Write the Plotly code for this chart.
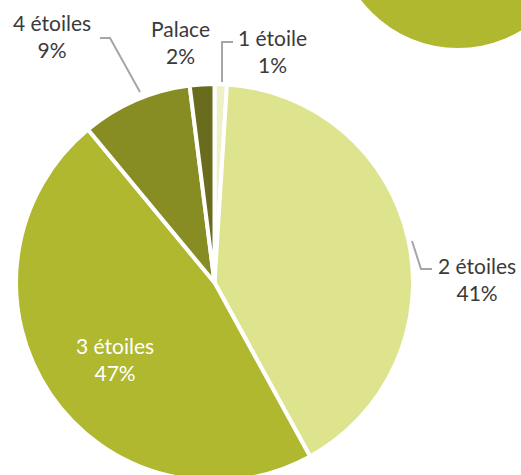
import plotly.graph_objects as go

W, H = 521, 481  # page shows the top 475 px; pie runs off the bottom edge

categories = ["1 étoile", "2 étoiles", "3 étoiles", "4 étoiles", "Palace"]
shares = [1, 41, 47, 9, 2]
colors = ["#EEF0C6", "#DEE48E", "#B0B82F", "#878C23", "#696C1C"]

# label placements (pixel centres) and leader lines
label_pos = {
    "4 étoiles": (52, 36),
    "Palace": (180, 42),
    "1 étoile": (272, 51),
    "2 étoiles": (477, 279),
    "3 étoiles": (115, 359),
}
leaders = {
    "4 étoiles": [(100, 38), (110, 38), (140, 92)],
    "1 étoile": [(233, 42), (222, 42), (222, 82)],
    "2 étoiles": [(432, 269), (421, 269), (412, 241)],
}

def px(x, y):
    return x / W, 1 - y / H

fig = go.Figure(go.Pie(
    labels=categories,
    values=shares,
    sort=False,
    direction="clockwise",
    rotation=0,
    marker=dict(colors=colors, line=dict(color="white", width=4)),
    textinfo="none",
    hoverinfo="label+percent",
    domain=dict(x=[16 / W, 413 / W], y=[0.0, 1 - 84 / H]),
    showlegend=False,
))

annotations = []
for cat, val in zip(categories, shares):
    x, y = label_pos[cat]
    ax, ay = px(x, y)
    col = "white" if cat == "3 étoiles" else "#3A3A3A"
    annotations.append(dict(
        x=ax, y=ay, xref="paper", yref="paper",
        text=f"{cat}<br>{val}%", showarrow=False,
        font=dict(family="Lato", size=21, color=col),
        xanchor="center", yanchor="middle", align="center",
    ))

shapes = []
# decorative circle top right
shapes.append(dict(type="circle", xref="paper", yref="paper",
                   x0=(458 - 122) / W, x1=(458 + 122) / W,
                   y0=1 - (-74 + 122) / H, y1=1 - (-74 - 122) / H,
                   fillcolor="#B0B82F", line=dict(width=0), layer="below"))
for cat, pts in leaders.items():
    path = ""
    for i, (x, y) in enumerate(pts):
        X, Y = px(x, y)
        path += ("M" if i == 0 else "L") + f"{X},{Y} "
    shapes.append(dict(type="path", xref="paper", yref="paper", path=path.strip(),
                       line=dict(color="#A6A6A6", width=2)))

fig.update_layout(
    width=W, height=H,
    margin=dict(l=0, r=0, t=0, b=0),
    paper_bgcolor="white", plot_bgcolor="white",
    annotations=annotations, shapes=shapes,
)

fig.write_html(
    "out.html",
    config={"displayModeBar": False},
    post_script="document.body.style.margin='0';document.body.style.overflow='hidden';",
)
